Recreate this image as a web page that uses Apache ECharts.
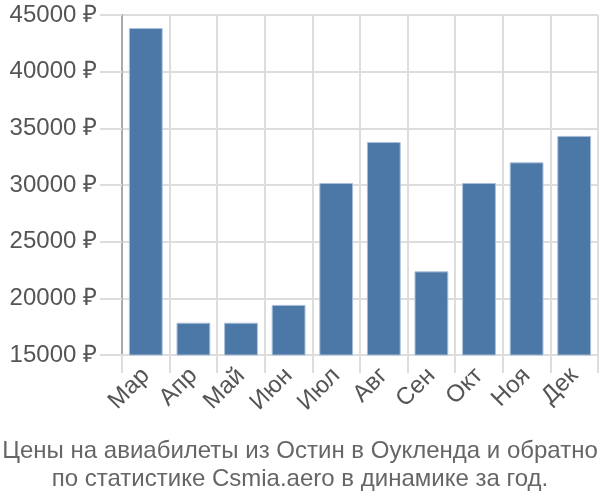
<!DOCTYPE html>
<html><head><meta charset="utf-8">
<script src="https://cdn.jsdelivr.net/npm/echarts@6/dist/echarts.min.js"></script>
<style>html,body{margin:0;padding:0;background:#fff}#c{width:600px;height:500px}</style>
</head><body><div id="c"></div>
<script>
const categories = ['Мар','Апр','Май','Июн','Июл','Авг','Сен','Окт','Ноя','Дек'];
const prices = [43850, 17850, 17850, 19420, 30180, 33790, 22380, 30180, 32000, 34330];
const titleLines = ['Цены на авиабилеты из Остин в Оукленда и обратно','по статистике Csmia.aero в динамике за год.'];
const yMin = 15000, yMax = 45000, yStep = 5000;

const chart = echarts.init(document.getElementById('c'), null, {renderer:'canvas'});
chart.setOption({
  animation:false,
  textStyle:{fontFamily:'Liberation Sans, Arial, sans-serif'},
  title:{
    text: titleLines.join('\n'),
    left:'center', top:432,
    textStyle:{fontSize:24, fontWeight:'normal', color:'#666', lineHeight:28, fontFamily:'Liberation Sans, Arial, sans-serif'}
  },
  grid:{left:122, right:2, top:15, bottom:145, containLabel:false},
  xAxis:{
    type:'category', data:categories,
    boundaryGap:true,
    axisLine:{show:true, lineStyle:{color:'#ddd', width:2}},
    axisTick:{show:true, length:18, alignWithLabel:false, lineStyle:{color:'#ddd', width:2}},
    splitLine:{show:true, lineStyle:{color:'#ddd', width:2}},
    axisLabel:{rotate:45, fontSize:24, color:'#555', margin:17, interval:0}
  },
  yAxis:{
    type:'value', min:yMin, max:yMax, interval:yStep,
    axisLine:{show:true, lineStyle:{color:'#aaa', width:2}},
    axisTick:{show:true, length:22, lineStyle:{color:'#ddd', width:2}},
    splitLine:{show:true, lineStyle:{color:'#ddd', width:2}},
    axisLabel:{fontSize:24, color:'#555', margin:25, formatter: v => v + ' ₽'}
  },
  series:[{
    type:'bar', data:prices, barWidth:'71%',
    itemStyle:{color:'#4c78a8', borderColor:'#a9bfd8', borderWidth:1}
  }]
});
</script></body></html>
